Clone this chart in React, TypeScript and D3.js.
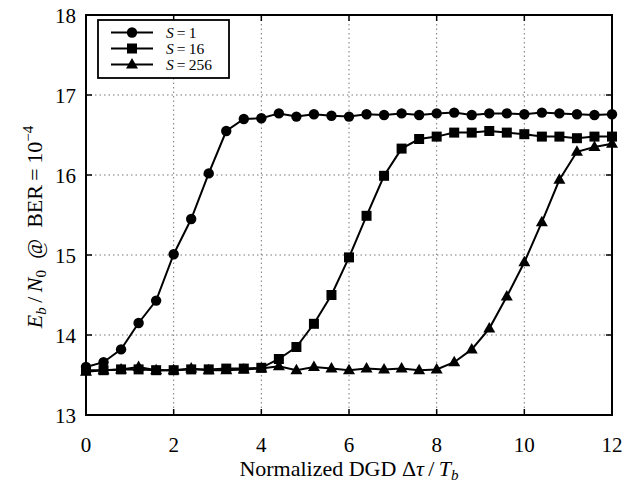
import React from "react";
import * as d3 from "d3";

const xs: number[] = [0, 0.4, 0.8, 1.2, 1.6, 2.0, 2.4, 2.8, 3.2, 3.6, 4.0, 4.4, 4.8, 5.2, 5.6, 6.0, 6.4, 6.8, 7.2, 7.6, 8.0, 8.4, 8.8, 9.2, 9.6, 10.0, 10.4, 10.8, 11.2, 11.6, 12.0];
const s1: number[] = [13.60, 13.66, 13.82, 14.15, 14.43, 15.01, 15.45, 16.02, 16.55, 16.70, 16.71, 16.77, 16.73, 16.76, 16.74, 16.73, 16.76, 16.75, 16.77, 16.75, 16.77, 16.78, 16.75, 16.77, 16.77, 16.76, 16.78, 16.77, 16.76, 16.75, 16.76];
const s16: number[] = [13.56, 13.56, 13.57, 13.57, 13.56, 13.56, 13.57, 13.57, 13.58, 13.58, 13.59, 13.70, 13.85, 14.14, 14.50, 14.97, 15.49, 15.99, 16.33, 16.45, 16.48, 16.53, 16.53, 16.55, 16.53, 16.51, 16.48, 16.48, 16.46, 16.48, 16.48];
const s256: number[] = [13.54, 13.56, 13.57, 13.60, 13.56, 13.56, 13.58, 13.56, 13.56, 13.57, 13.58, 13.61, 13.56, 13.60, 13.58, 13.56, 13.58, 13.57, 13.58, 13.56, 13.57, 13.66, 13.82, 14.08, 14.48, 14.91, 15.41, 15.94, 16.29, 16.35, 16.39];
const seriesNames: string[] = ["1", "16", "256"];
const xTicks: number[] = [0, 2, 4, 6, 8, 10, 12];
const yTicks: number[] = [13, 14, 15, 16, 17, 18];

const W = 636, H = 483;
const L = 86, R = 612, T = 15, B = 415;
const FONT = "'Liberation Serif', 'Times New Roman', 'DejaVu Serif', serif";

function Marker({ kind, x, y }: { kind: number; x: number; y: number }) {
  if (kind === 0) return <circle cx={x} cy={y} r={5.2} fill="#000" />;
  if (kind === 1) return <rect x={x - 5} y={y - 5} width={10} height={10} fill="#000" />;
  const h = 10.5, w = 12;
  return <path d={`M${x},${y - h * 0.62}L${x + w / 2},${y + h * 0.38}L${x - w / 2},${y + h * 0.38}Z`} fill="#000" />;
}

export default function App() {
  const x = d3.scaleLinear().domain([0, 12]).range([L, R]);
  const y = d3.scaleLinear().domain([13, 18]).range([B, T]);
  const all = [s1, s16, s256];
  const line = d3.line<number>().x((_, i) => x(xs[i])).y((d) => y(d));
  return (
    <svg width={W} height={H} style={{ position: "absolute", left: 0, top: 0, background: "#fff", fontFamily: FONT }}>
      <rect width={W} height={H} fill="#fff" />
      {xTicks.slice(1, -1).map((t) => (
        <line key={"gx" + t} x1={x(t)} x2={x(t)} y1={T} y2={B} stroke="#777" strokeWidth={1} strokeDasharray="1.5,3" />
      ))}
      {yTicks.slice(1, -1).map((t) => (
        <line key={"gy" + t} x1={L} x2={R} y1={y(t)} y2={y(t)} stroke="#777" strokeWidth={1} strokeDasharray="1.5,3" />
      ))}
      {xTicks.map((t) => (
        <g key={"tx" + t}>
          <line x1={x(t)} x2={x(t)} y1={B} y2={B - 6} stroke="#000" strokeWidth={1.5} />
          <line x1={x(t)} x2={x(t)} y1={T} y2={T + 6} stroke="#000" strokeWidth={1.5} />
          <text x={x(t)} y={452} fontSize={21} textAnchor="middle">{t}</text>
        </g>
      ))}
      {yTicks.map((t) => (
        <g key={"ty" + t}>
          <line x1={L} x2={L + 6} y1={y(t)} y2={y(t)} stroke="#000" strokeWidth={1.5} />
          <line x1={R} x2={R - 6} y1={y(t)} y2={y(t)} stroke="#000" strokeWidth={1.5} />
          <text x={L - 10} y={y(t) + 7.5} fontSize={21} textAnchor="end">{t}</text>
        </g>
      ))}
      {all.map((s, k) => (
        <g key={"s" + k}>
          <path d={line(s) || ""} fill="none" stroke="#000" strokeWidth={2} />
          {s.map((v, i) => <Marker key={i} kind={k} x={x(xs[i])} y={y(v)} />)}
        </g>
      ))}
      <rect x={L} y={T} width={R - L} height={B - T} fill="none" stroke="#000" strokeWidth={2} />
      <g>
        <rect x={98} y={20} width={131} height={58} fill="#fff" stroke="#000" strokeWidth={1.8} />
        {seriesNames.map((n, k) => {
          const yy = 32.5 + k * 16;
          return (
            <g key={"lg" + k}>
              <line x1={111} x2={153} y1={yy} y2={yy} stroke="#000" strokeWidth={2} />
              <Marker kind={k} x={132} y={yy} />
              <text x={166} y={yy + 5} fontSize={15.5}>
                <tspan fontStyle="italic">S</tspan>{"\u2009=\u2009" + n}
              </text>
            </g>
          );
        })}
      </g>
      <text x={(L + R) / 2 + 0} y={476} fontSize={22} textAnchor="middle">
        {"Normalized DGD Δ"}<tspan fontStyle="italic">τ</tspan>{"\u2009/\u2009"}<tspan fontStyle="italic">T</tspan><tspan fontStyle="italic" fontSize={15} dy={4}>b</tspan>
      </text>
      <text transform={`translate(42,${227}) rotate(-90)`} fontSize={22} textAnchor="middle">
        <tspan fontStyle="italic">E</tspan><tspan fontStyle="italic" fontSize={15} dy={4}>b</tspan><tspan dy={-4}>{"\u2009/\u2009"}</tspan><tspan fontStyle="italic">N</tspan><tspan fontSize={15} dy={4}>0</tspan><tspan dy={-4}>{"\u00A0\u00A0@\u00A0\u00A0BER\u2009=\u200910"}</tspan><tspan fontSize={15} dy={-9}>−4</tspan>
      </text>
    </svg>
  );
}
